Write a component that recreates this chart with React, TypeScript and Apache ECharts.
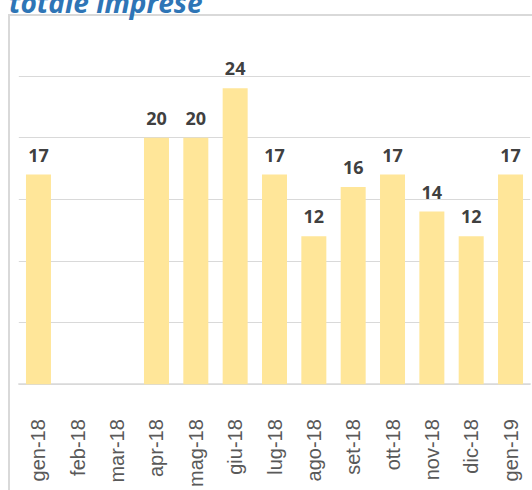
import React, { useEffect, useRef } from "react";
import * as echarts from "echarts";

const categories = ["gen-18", "feb-18", "mar-18", "apr-18", "mag-18", "giu-18", "lug-18", "ago-18", "set-18", "ott-18", "nov-18", "dic-18", "gen-19"];
const values: (number | null)[] = [17, null, null, 20, 20, 24, 17, 12, 16, 17, 14, 12, 17];
const titleText = "totale imprese";

export default function App() {
  const ref = useRef<HTMLDivElement>(null);
  useEffect(() => {
    if (!ref.current) return;
    const chart = echarts.init(ref.current, null, { renderer: "svg" });
    chart.setOption({
      animation: false,
      backgroundColor: "#ffffff",
      graphic: [
        {
          type: "rect",
          shape: { x: 9, y: 15, width: 700, height: 700 },
          style: { fill: "none", stroke: "#d9d9d9", lineWidth: 2 },
          z: -1,
        },
        {
          type: "text",
          x: 9,
          y: 16,
          style: {
            text: titleText,
            fill: "#2e75b6",
            font: "italic bold 28px 'Open Sans'",
            verticalAlign: "bottom",
            align: "left",
          },
        },
      ],
      grid: { left: 18.8, right: 1.8, top: 76, bottom: 104, containLabel: false },
      xAxis: {
        type: "category",
        data: categories,
        axisLine: { show: true, lineStyle: { color: "#d9d9d9", width: 1.5 } },
        axisTick: { show: false },
        axisLabel: {
          rotate: 90,
          margin: 35,
          color: "#595959",
          fontSize: 20,
          fontFamily: "'Liberation Sans', Arial, sans-serif",
          interval: 0,
          padding: [7, 0, 0, 0],
        },
      },
      yAxis: {
        type: "value",
        min: 0,
        max: 25,
        interval: 5,
        axisLine: { show: false },
        axisTick: { show: false },
        axisLabel: { show: false },
        splitLine: { lineStyle: { color: "#d9d9d9", width: 1 } },
      },
      series: [
        {
          type: "bar",
          data: values,
          barWidth: 25,
          itemStyle: { color: "#ffe699" },
          label: {
            show: true,
            position: "top",
            distance: 11,
            color: "#404040",
            fontSize: 18,
            fontWeight: "bold",
            fontFamily: "'Open Sans', sans-serif",
          },
        },
      ],
    });
    return () => chart.dispose();
  }, []);
  return <div ref={ref} style={{ position: "absolute", left: 0, top: 0, width: 532, height: 490 }} />;
}
